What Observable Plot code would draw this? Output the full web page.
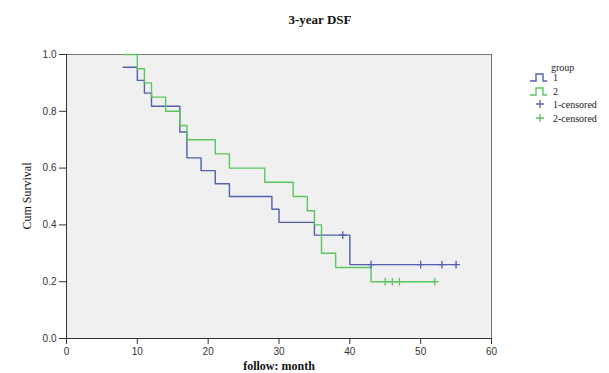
<!DOCTYPE html>
<html>
<head>
<meta charset="utf-8">
<script src="https://cdn.jsdelivr.net/npm/d3@7"></script>
<script src="https://cdn.jsdelivr.net/npm/@observablehq/plot@0.6"></script>
<style>
  html, body { margin: 0; padding: 0; background: #fff; }
  #chart svg { display: block; }
</style>
</head>
<body>
<div id="chart"></div>
<script>
// Group 1 Kaplan-Meier steps
const g1Time = [8, 10, 11, 12, 16, 17, 19, 21, 23, 29, 30, 35, 40, 55];
const g1Surv = [0.955, 0.909, 0.864, 0.818, 0.727, 0.636, 0.591, 0.545, 0.5, 0.455, 0.409, 0.364, 0.26, 0.26];
const g1CensorTime = [39, 43, 50, 53, 55];
const g1CensorSurv = [0.364, 0.26, 0.26, 0.26, 0.26];

// Group 2 Kaplan-Meier steps
const g2Time = [8, 10, 11, 12, 14, 16, 17, 21, 23, 28, 32, 34, 35, 36, 38, 43, 52];
const g2Surv = [1, 0.95, 0.9, 0.85, 0.8, 0.75, 0.7, 0.65, 0.6, 0.55, 0.5, 0.45, 0.4, 0.3, 0.25, 0.2, 0.2];
const g2CensorTime = [45, 46, 47, 52];
const g2CensorSurv = [0.2, 0.2, 0.2, 0.2];

const xTicks = [0, 10, 20, 30, 40, 50, 60];
const yTicks = [0, 0.2, 0.4, 0.6, 0.8, 1.0];

const titleText = "3-year DSF";
const xLabel = "follow: month";
const yLabel = "Cum Survival";
const legendTitle = "group";
const legendLabels = ["1", "2", "1-censored", "2-censored"];

const blue = "#5161ab";
const green = "#5cc560";

const g1 = g1Time.map((t, i) => ({t, s: g1Surv[i]}));
const g2 = g2Time.map((t, i) => ({t, s: g2Surv[i]}));
const c1 = g1CensorTime.map((t, i) => ({t, s: g1CensorSurv[i]}));
const c2 = g2CensorTime.map((t, i) => ({t, s: g2CensorSurv[i]}));

const plot = Plot.plot({
  width: 609,
  height: 373,
  marginLeft: 66,
  marginRight: 118,
  marginTop: 54,
  marginBottom: 35,
  style: {fontFamily: "Liberation Sans, sans-serif", fontSize: "10px", color: "#333", background: "#fff"},
  x: {domain: [0, 60]},
  y: {domain: [0, 1]},
  marks: [
    Plot.frame({fill: "#f0f0f0", stroke: "#777", strokeWidth: 1}),
    Plot.axisX({ticks: xTicks, tickSize: 6, tickPadding: 3, tickFormat: d => String(d), label: null, stroke: "#333"}),
    Plot.axisY({ticks: yTicks, tickSize: 7, tickPadding: 3, tickFormat: d3.format(".1f"), label: null, stroke: "#333"}),
    Plot.ruleY([0], {stroke: "#333"}),
    Plot.ruleX([0], {stroke: "#333"}),
    Plot.line(g1, {x: "t", y: "s", curve: "step-after", stroke: blue, strokeWidth: 1.4}),
    Plot.line(g2, {x: "t", y: "s", curve: "step-after", stroke: green, strokeWidth: 1.4}),
    Plot.dot(c1, {x: "t", y: "s", symbol: "plus", r: 2.6, stroke: blue, strokeWidth: 1.3}),
    Plot.dot(c2, {x: "t", y: "s", symbol: "plus", r: 2.6, stroke: green, strokeWidth: 1.3})
  ]
});

document.getElementById("chart").appendChild(plot);

const svg = d3.select(plot);
const serif = "Liberation Serif, Times New Roman, serif";

svg.append("text")
  .attr("x", 320).attr("y", 24)
  .attr("text-anchor", "middle")
  .attr("font-family", serif).attr("font-weight", "bold").attr("font-size", 13)
  .attr("fill", "#111")
  .text(titleText);

svg.append("text")
  .attr("x", 279).attr("y", 370)
  .attr("text-anchor", "middle")
  .attr("font-family", serif).attr("font-weight", "bold").attr("font-size", 12)
  .attr("fill", "#111")
  .text(xLabel);

svg.append("text")
  .attr("transform", "translate(31,196) rotate(-90)")
  .attr("text-anchor", "middle")
  .attr("font-family", serif).attr("font-size", 12)
  .attr("fill", "#111")
  .text(yLabel);

// Legend
const lg = svg.append("g").attr("font-family", serif).attr("font-size", 10).attr("fill", "#222").attr("text-anchor", "start");
lg.append("text").attr("x", 551).attr("y", 71).attr("text-anchor", "start").text(legendTitle);
const stepPath = (y) => `M530,${y + 7}H536V${y}H543V${y + 7}H547`;
lg.append("path").attr("d", stepPath(74)).attr("fill", "none").attr("stroke", blue).attr("stroke-width", 1.4);
lg.append("text").attr("x", 553).attr("y", 81).attr("text-anchor", "start").text(legendLabels[0]);
lg.append("path").attr("d", stepPath(88)).attr("fill", "none").attr("stroke", green).attr("stroke-width", 1.4);
lg.append("text").attr("x", 553).attr("y", 95).attr("text-anchor", "start").text(legendLabels[1]);
const plus = (cx, cy, col) => {
  lg.append("path").attr("d", `M${cx - 4},${cy}H${cx + 4}M${cx},${cy - 4}V${cy + 4}`)
    .attr("stroke", col).attr("stroke-width", 1.3);
};
plus(540, 104, blue);
lg.append("text").attr("x", 553).attr("y", 107.5).attr("text-anchor", "start").text(legendLabels[2]);
plus(540, 118, green);
lg.append("text").attr("x", 553).attr("y", 121.5).attr("text-anchor", "start").text(legendLabels[3]);
</script>
</body>
</html>
